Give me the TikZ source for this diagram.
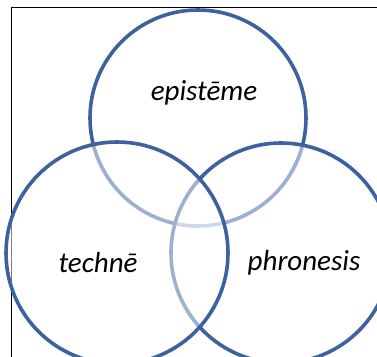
\documentclass[tikz,border=0pt]{standalone}
\usepackage{fontspec}
\setmainfont{Carlito}
\usetikzlibrary{positioning}
\definecolor{ringblue}{RGB}{60,98,160}

\begin{document}
\begin{tikzpicture}[x=1pt, y=-1pt,
    ring/.style={circle, draw=ringblue, line width=3.6pt, fill=white,
                 fill opacity=0.5, draw opacity=1, inner sep=0pt},
    word/.style={font=\itshape\fontsize{29}{33}\selectfont, text=black}]
 \useasboundingbox (0,0) rectangle (377,356);
 \clip (0,0) rectangle (377,356);
 \fill[white] (0,0) rectangle (377,356);
 \draw[black, line width=1.8pt] (11.5,360) -- (11.5,7.5) -- (380,7.5);
 % circles, back to front
 \node[ring, minimum size=216pt] (episteme) at (198,118) {};
 \node[ring, minimum size=220pt] (phronesis) at (281,253) {};
 \node[ring, minimum size=222pt] (techne) at (117,253) {};
 % labels
 \node[word] (lepi) at (204,93) {epistēme};
 \node[word] (ltec) at (98,263) {technē};
 \node[word] (lphr) at (304,263) {phronesis};
\end{tikzpicture}
\end{document}
